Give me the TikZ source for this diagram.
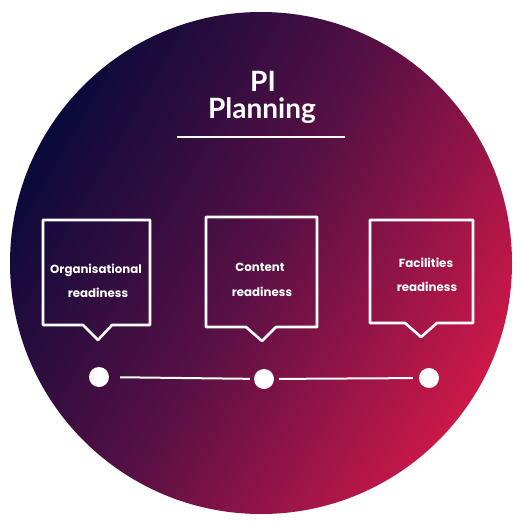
\documentclass[tikz,border=0pt]{standalone}
\usepackage{fontspec}
\newfontfamily\popfont{Poppins}
\newfontfamily\latofont{Lato}
\definecolor{navy}{HTML}{0A0A3A}
\definecolor{midp}{HTML}{5A1045}
\definecolor{crim}{HTML}{CC1848}
\tikzset{
  boxline/.style={draw=white, line width=2.6pt, line join=round},
  boxtext/.style={text=white, font=\popfont\bfseries\fontsize{11.8}{14}\selectfont, align=center, inner sep=0pt},
  dot/.style={circle, fill=white, minimum size=20pt, inner sep=0pt},
  tline/.style={draw=white, line width=2pt},
  titletext/.style={text=white, font=\latofont\bfseries\fontsize{28}{32}\selectfont, inner sep=0pt},
}
\begin{document}
\begin{tikzpicture}[x=1pt,y=-1pt]
\useasboundingbox (0,0) rectangle (522,522);
\shade[top color=navy, bottom color=crim, middle color=midp, shading angle=60] (261,263) circle (251);
% title
\node[titletext] (pi) at (263,81) {PI};
\node[titletext] (planning) at (262,111) {Planning};
\coordinate (ulL) at (177,137);
\coordinate (ulR) at (345,137);
\draw[white, line width=1.8pt] (ulL) -- (ulR);
% boxes
\draw[boxline] (43,220) -- (150,220) -- (150,325) -- (112,325) -- (98,340) -- (83,325) -- (43,325) -- cycle;
\draw[boxline] (206,217) -- (317,217) -- (317,327) -- (276,327) -- (262,341) -- (246,327) -- (206,327) -- cycle;
\draw[boxline] (370,220) -- (473,220) -- (473,323) -- (437,323) -- (421,337) -- (405,323) -- (370,323) -- cycle;
\node[boxtext] (t1a) at (96,270) {Organisational};
\node[boxtext] (t1b) at (98,293) {readiness};
\node[boxtext] (t2a) at (260,267) {Content};
\node[boxtext] (t2b) at (262,292) {readiness};
\node[boxtext] (t3a) at (426,263) {Facilities};
\node[boxtext] (t3b) at (427,287) {readiness};
% timeline
\node[dot] (d1) at (99,377) {};
\node[dot] (d2) at (264,379) {};
\node[dot] (d3) at (429,378) {};
\draw[tline, shorten <=11pt, shorten >=4pt] (d1) -- (d2);
\draw[tline, shorten <=5pt, shorten >=6pt] (d2) -- (d3);
\end{tikzpicture}
\end{document}
